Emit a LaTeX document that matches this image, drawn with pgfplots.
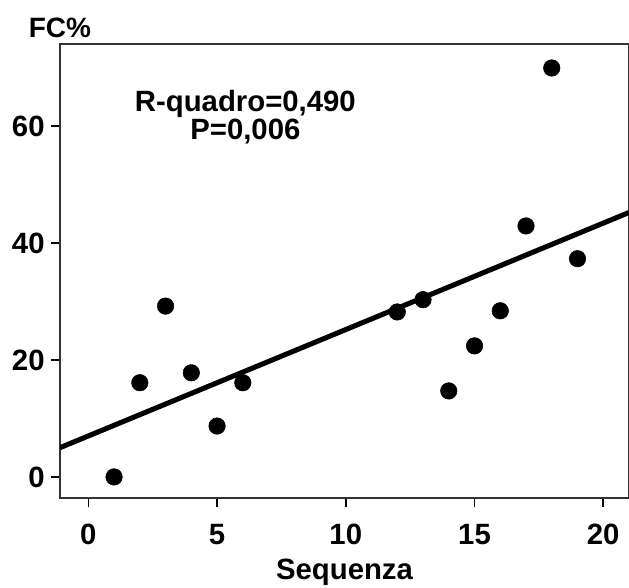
\documentclass[border=0pt]{standalone}
\usepackage{pgfplots}
\pgfplotsset{compat=1.18}
\usepackage{fontspec}
\setmainfont{Liberation Sans}
\begin{document}
\begin{tikzpicture}
\begin{axis}[name=ax,
  scale only axis, width=426.75pt, height=340.5pt,
  xmin=-1.1, xmax=21, ymin=-3.6, ymax=74,
  xtick={0,5,10,15,20}, ytick={0,20,40,60},
  tick align=outside, tick pos=left,
  major tick length=7pt,
  every tick/.style={black, line width=1.2pt},
  axis line style={line width=1.2pt, black!80},
  /pgf/number format/assume math mode=true,
  tick label style={font=\fontsize{22}{24}\selectfont\bfseries},
  xticklabel style={yshift=-9pt},
  yticklabel style={xshift=-1pt},
  xlabel={Sequenza},
  xlabel style={font=\fontsize{22}{24}\selectfont\bfseries, yshift=-4pt},
  ylabel={FC\%},
  ylabel style={font=\fontsize{21}{24}\selectfont\bfseries, rotate=-90, at={(axis description cs:0,1)}, anchor=base, yshift=5pt},
  clip=true,
]
\addplot[only marks, mark=*, mark size=6.2pt, black] coordinates {
(1,0) (2,16.1) (3,29.2) (4,17.8) (5,8.7) (6,16.1) (12,28.2) (13,30.3)
(14,14.7) (15,22.4) (16,28.4) (17,42.9) (18,69.9) (19,37.3)
};
\addplot[black, line width=3.8pt] coordinates {(-1.1,5.0) (21,45.2)};
\node[align=center, font=\fontsize{22}{19.5}\selectfont\bfseries] at (axis cs:6.1,61.5) {R-quadro=0,490\\P=0,006};
\end{axis}
\pgfresetboundingbox
\path ([xshift=-45pt,yshift=-67.5pt]ax.south west) rectangle ([yshift=33pt]ax.north east);
\end{tikzpicture}
\end{document}
